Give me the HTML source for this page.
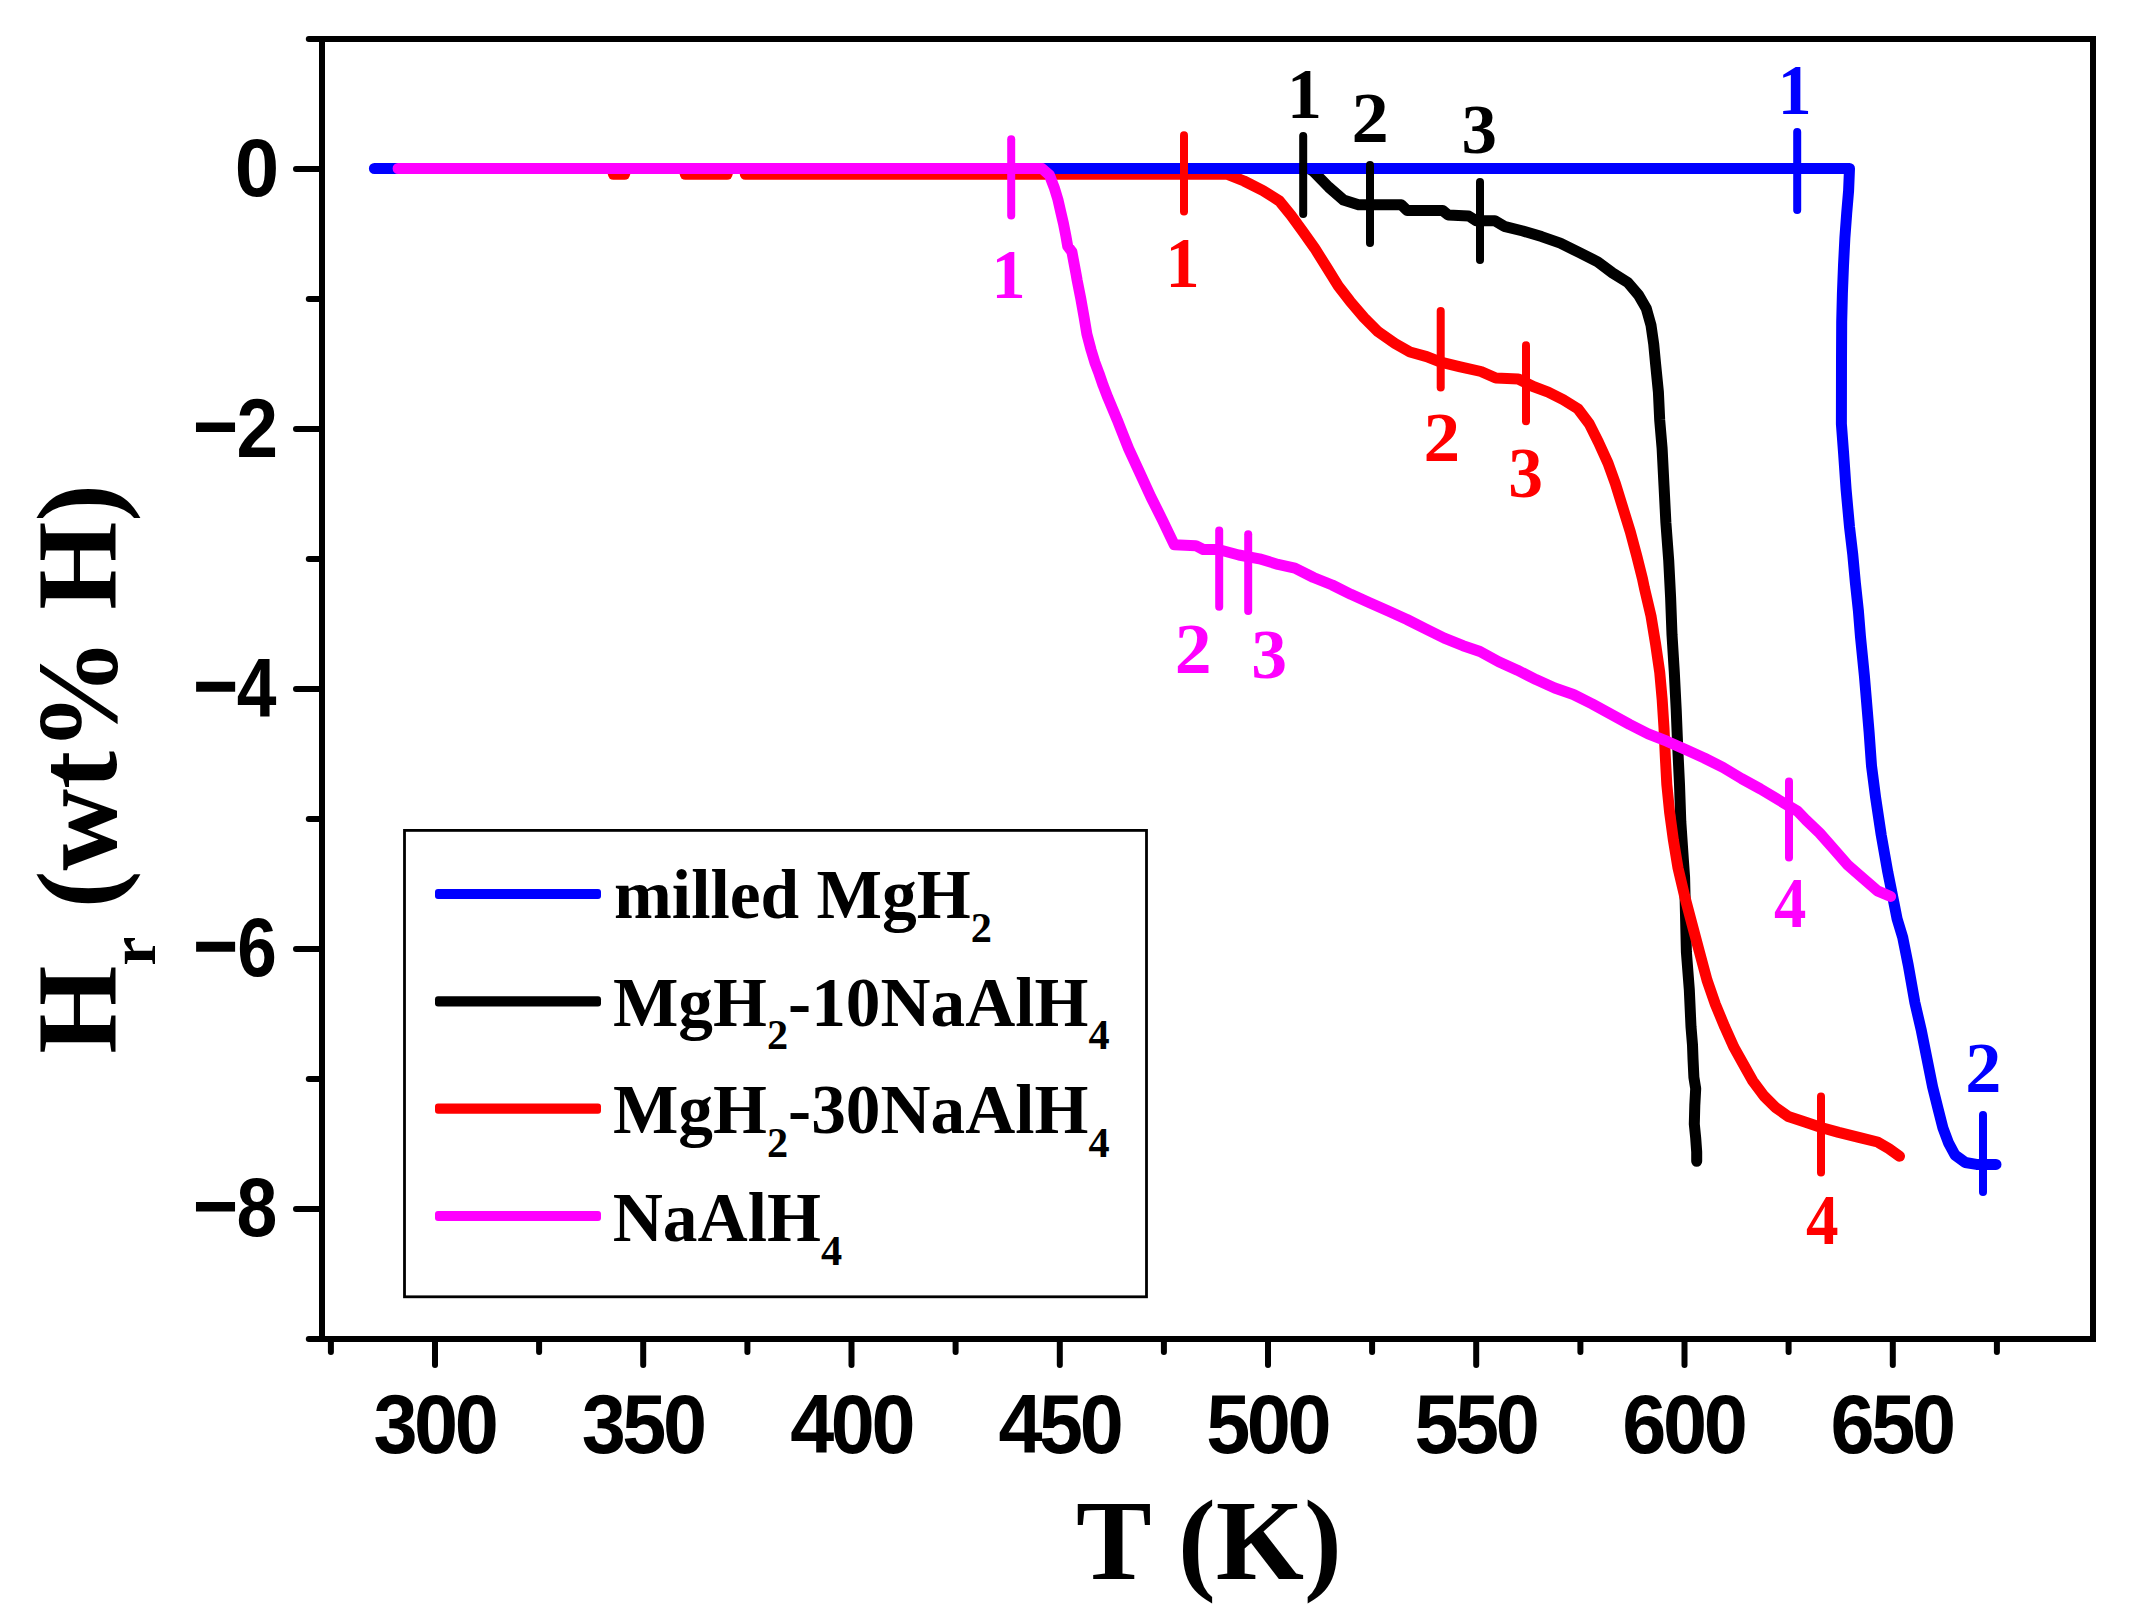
<!DOCTYPE html>
<html lang="en">
<head>
<meta charset="utf-8">
<title>Hydrogen release vs temperature</title>
<style>
html,body{margin:0;padding:0;background:#fff;}
body{width:2141px;height:1615px;overflow:hidden;}
svg{display:block;}
</style>
</head>
<body>
<svg width="2141" height="1615" viewBox="0 0 2141 1615">
<rect x="0" y="0" width="2141" height="1615" fill="#ffffff"/>

<g id="curves">
<polyline points="1309.0,168.5 1313.0,171.0 1328.6,187.0 1343.5,200.0 1358.5,204.8 1401.4,204.8 1407.0,210.4 1442.5,210.4 1448.2,215.0 1468.7,216.0 1476.0,220.7 1494.9,220.7 1504.2,226.3 1522.9,231.0 1541.6,236.6 1560.3,243.1 1579.0,252.4 1597.7,261.8 1612.6,273.0 1627.6,282.3 1638.8,295.4 1646.3,308.5 1651.0,325.3 1653.7,344.0 1655.6,364.0 1658.4,392.1 1659.7,420.1 1662.1,448.2 1664.0,485.5 1665.9,522.9 1668.7,560.3 1670.6,597.4 1672.0,634.7 1674.3,672.1 1676.2,709.5 1677.7,746.8 1679.5,784.2 1680.8,821.6 1683.3,858.9 1684.6,877.4 1685.5,914.7 1686.4,952.1 1689.3,989.5 1691.0,1026.8 1692.5,1045.0 1693.0,1058.7 1693.9,1077.4 1695.7,1088.6 1694.8,1105.4 1694.3,1124.0 1695.7,1138.0 1696.7,1152.0 1696.7,1161.3" fill="none" stroke="#000000" stroke-width="11" stroke-linecap="round" stroke-linejoin="round"/>
<polyline points="613.4,174.3 624.6,174.3" fill="none" stroke="#ff0000" stroke-width="11" stroke-linecap="round" stroke-linejoin="round"/>
<polyline points="685.3,174.3 727.1,174.3" fill="none" stroke="#ff0000" stroke-width="11" stroke-linecap="round" stroke-linejoin="round"/>
<polyline points="745.3,174.3 1227.6,174.3 1244.0,181.0 1263.0,190.6 1279.4,201.0 1291.0,215.3 1303.0,231.8 1314.7,248.2 1326.5,267.0 1338.2,285.9 1350.0,301.2 1364.0,317.6 1378.2,331.8 1395.0,343.5 1410.0,352.0 1426.7,356.6 1440.7,362.2 1460.3,366.9 1481.0,371.5 1495.8,378.1 1518.3,379.0 1533.2,386.5 1548.2,392.1 1563.1,399.6 1578.0,408.9 1589.3,423.9 1598.6,442.5 1608.0,463.1 1615.4,483.6 1622.9,507.9 1630.4,532.2 1636.9,556.5 1642.5,578.9 1644.4,588.0 1651.0,616.0 1655.6,644.0 1659.7,672.1 1662.2,700.1 1664.0,728.1 1665.3,756.2 1666.8,784.2 1669.6,812.2 1673.4,840.2 1678.0,868.0 1684.6,896.0 1692.0,924.0 1699.5,952.1 1707.0,980.1 1715.4,1004.4 1724.7,1026.8 1734.0,1047.4 1743.4,1064.2 1752.8,1081.0 1764.0,1096.0 1775.2,1107.2 1788.3,1116.5 1805.0,1122.0 1822.0,1127.7 1838.7,1132.4 1858.8,1137.3 1877.5,1142.0 1888.7,1148.5 1899.5,1156.2" fill="none" stroke="#ff0000" stroke-width="11" stroke-linecap="round" stroke-linejoin="round"/>
<polyline points="374.4,168.5 1849.5,168.5 1848.6,190.8 1846.7,213.3 1844.9,237.6 1843.5,265.6 1842.4,293.6 1841.7,321.7 1841.5,359.0 1841.4,424.0 1843.5,452.0 1846.1,489.5 1849.5,526.8 1852.8,554.9 1855.4,582.9 1858.4,610.9 1860.5,637.0 1864.4,676.0 1869.1,732.1 1871.5,765.7 1875.6,797.5 1881.2,834.9 1887.8,872.2 1893.4,900.2 1897.1,918.9 1902.7,937.4 1908.3,965.4 1914.9,1002.8 1921.4,1030.8 1927.0,1058.8 1932.6,1086.8 1938.2,1109.3 1942.9,1127.9 1948.5,1142.9 1955.0,1155.0 1965.3,1162.5 1976.5,1164.4 1996.0,1164.4" fill="none" stroke="#0000ff" stroke-width="11" stroke-linecap="round" stroke-linejoin="round"/>
<polyline points="398.1,168.5 1042.0,168.5 1049.5,175.2 1054.2,187.4 1057.9,199.5 1060.7,211.7 1063.5,223.8 1065.9,236.0 1067.7,246.2 1071.9,251.8 1073.8,262.1 1076.1,274.2 1077.1,280.0 1080.8,298.7 1084.1,317.4 1086.9,334.2 1091.1,350.0 1094.8,362.2 1099.0,373.4 1103.2,385.6 1107.9,397.7 1112.6,408.9 1117.3,420.1 1121.0,429.5 1128.6,448.6 1139.8,472.9 1151.0,497.2 1162.2,519.6 1174.3,544.8 1195.8,545.7 1203.3,549.5 1218.3,549.5 1238.8,555.0 1259.4,558.8 1278.0,564.4 1294.9,568.1 1313.5,577.5 1332.2,585.0 1350.9,594.3 1369.6,602.7 1388.3,611.1 1407.0,619.5 1425.6,628.9 1444.3,638.2 1463.0,645.7 1480.0,651.5 1498.7,661.8 1517.4,670.2 1536.0,679.6 1554.7,688.0 1573.4,694.5 1592.1,703.9 1610.8,714.1 1629.5,724.4 1648.2,733.8 1666.8,741.2 1685.5,749.6 1704.2,758.0 1722.9,767.4 1741.6,778.6 1760.3,788.9 1779.0,800.1 1797.6,811.3 1806.0,820.0 1819.6,833.0 1834.5,849.8 1847.6,864.8 1862.5,877.8 1877.5,890.9 1890.6,896.5" fill="none" stroke="#ff00ff" stroke-width="11" stroke-linecap="round" stroke-linejoin="round"/>
</g>
<g id="axes" stroke="#000" stroke-width="6" fill="none">
<rect x="322" y="39" width="1771" height="1300"/>
</g>
<g id="ticks" stroke="#000" stroke-width="6" stroke-linecap="round">
<line x1="435.0" y1="1339" x2="435.0" y2="1365"/>
<line x1="643.2" y1="1339" x2="643.2" y2="1365"/>
<line x1="851.5" y1="1339" x2="851.5" y2="1365"/>
<line x1="1059.8" y1="1339" x2="1059.8" y2="1365"/>
<line x1="1268.0" y1="1339" x2="1268.0" y2="1365"/>
<line x1="1476.2" y1="1339" x2="1476.2" y2="1365"/>
<line x1="1684.5" y1="1339" x2="1684.5" y2="1365"/>
<line x1="1892.8" y1="1339" x2="1892.8" y2="1365"/>
<line x1="330.9" y1="1339" x2="330.9" y2="1352"/>
<line x1="539.1" y1="1339" x2="539.1" y2="1352"/>
<line x1="747.4" y1="1339" x2="747.4" y2="1352"/>
<line x1="955.6" y1="1339" x2="955.6" y2="1352"/>
<line x1="1163.9" y1="1339" x2="1163.9" y2="1352"/>
<line x1="1372.1" y1="1339" x2="1372.1" y2="1352"/>
<line x1="1580.4" y1="1339" x2="1580.4" y2="1352"/>
<line x1="1788.6" y1="1339" x2="1788.6" y2="1352"/>
<line x1="1996.9" y1="1339" x2="1996.9" y2="1352"/>
<line x1="322" y1="169.0" x2="296" y2="169.0"/>
<line x1="322" y1="429.0" x2="296" y2="429.0"/>
<line x1="322" y1="689.0" x2="296" y2="689.0"/>
<line x1="322" y1="949.0" x2="296" y2="949.0"/>
<line x1="322" y1="1209.0" x2="296" y2="1209.0"/>
<line x1="322" y1="39.0" x2="308.8" y2="39.0"/>
<line x1="322" y1="299.0" x2="308.8" y2="299.0"/>
<line x1="322" y1="559.0" x2="308.8" y2="559.0"/>
<line x1="322" y1="819.0" x2="308.8" y2="819.0"/>
<line x1="322" y1="1079.0" x2="308.8" y2="1079.0"/>
<line x1="322" y1="1339.0" x2="308.8" y2="1339.0"/>
</g>
<g id="xticklabels">
<text transform="translate(373.40,1452.87) scale(0.7925,0.8335)" font-family='"Liberation Sans",sans-serif' font-weight="bold" font-size="100" fill="#000" letter-spacing="-4.3">300</text>
<text transform="translate(581.65,1452.87) scale(0.7925,0.8335)" font-family='"Liberation Sans",sans-serif' font-weight="bold" font-size="100" fill="#000" letter-spacing="-4.3">350</text>
<text transform="translate(790.23,1452.87) scale(0.7917,0.8335)" font-family='"Liberation Sans",sans-serif' font-weight="bold" font-size="100" fill="#000" letter-spacing="-4.3">400</text>
<text transform="translate(998.48,1452.87) scale(0.7917,0.8335)" font-family='"Liberation Sans",sans-serif' font-weight="bold" font-size="100" fill="#000" letter-spacing="-4.3">450</text>
<text transform="translate(1206.17,1452.87) scale(0.7921,0.8335)" font-family='"Liberation Sans",sans-serif' font-weight="bold" font-size="100" fill="#000" letter-spacing="-4.3">500</text>
<text transform="translate(1414.42,1452.87) scale(0.7921,0.8335)" font-family='"Liberation Sans",sans-serif' font-weight="bold" font-size="100" fill="#000" letter-spacing="-4.3">550</text>
<text transform="translate(1622.34,1452.87) scale(0.7929,0.8335)" font-family='"Liberation Sans",sans-serif' font-weight="bold" font-size="100" fill="#000" letter-spacing="-4.3">600</text>
<text transform="translate(1830.59,1452.87) scale(0.7929,0.8335)" font-family='"Liberation Sans",sans-serif' font-weight="bold" font-size="100" fill="#000" letter-spacing="-4.3">650</text>
</g>
<g id="yticklabels">
<text transform="translate(234.70,196.08) scale(0.7993,0.8193)" font-family='"Liberation Sans",sans-serif' font-weight="bold" font-size="100" fill="#000">0</text>
<text transform="translate(236.41,456.80) scale(0.7469,0.8311)" font-family='"Liberation Sans",sans-serif' font-weight="bold" font-size="100" fill="#000"><tspan x="-58.41" dy="-1.27" font-size="104.27">−</tspan><tspan x="0" dy="1.27">2</tspan></text>
<text transform="translate(236.71,716.80) scale(0.7144,0.8377)" font-family='"Liberation Sans",sans-serif' font-weight="bold" font-size="100" fill="#000"><tspan x="-61.49" dy="0.58" font-size="109.02">−</tspan><tspan x="0" dy="-0.58">4</tspan></text>
<text transform="translate(237.19,976.17) scale(0.7117,0.8349)" font-family='"Liberation Sans",sans-serif' font-weight="bold" font-size="100" fill="#000"><tspan x="-62.39" dy="1.36" font-size="109.43">−</tspan><tspan x="0" dy="-1.36">6</tspan></text>
<text transform="translate(236.45,1236.17) scale(0.7338,0.8349)" font-family='"Liberation Sans",sans-serif' font-weight="bold" font-size="100" fill="#000"><tspan x="-59.51" dy="0.27" font-size="106.14">−</tspan><tspan x="0" dy="-0.27">8</tspan></text>
</g>
<text transform="translate(1076.11,1578.70) scale(1.1343,1.1440)" font-family='"Liberation Serif",serif' font-weight="bold" font-size="100" fill="#000">T (K)</text>
<text transform="translate(116.00,1053.79) rotate(-90) scale(1.1320,1.1450)" font-family='"Liberation Serif",serif' font-weight="bold" font-size="100" fill="#000">H<tspan font-size="0.58em" dy="0.5862em">r</tspan><tspan dy="-0.34em"> (wt% H)</tspan></text>
<g id="markers">
<line x1="1797.2" y1="132" x2="1797.2" y2="210" stroke="#0000ff" stroke-width="8" stroke-linecap="round"/>
<line x1="1983" y1="1115" x2="1983" y2="1192" stroke="#0000ff" stroke-width="8" stroke-linecap="round"/>
<line x1="1303.2" y1="136" x2="1303.2" y2="214" stroke="#000000" stroke-width="8" stroke-linecap="round"/>
<line x1="1370" y1="165" x2="1370" y2="243" stroke="#000000" stroke-width="8" stroke-linecap="round"/>
<line x1="1480" y1="182" x2="1480" y2="260" stroke="#000000" stroke-width="8" stroke-linecap="round"/>
<line x1="1184" y1="135.3" x2="1184" y2="211.6" stroke="#ff0000" stroke-width="8" stroke-linecap="round"/>
<line x1="1440.7" y1="311" x2="1440.7" y2="387.6" stroke="#ff0000" stroke-width="8" stroke-linecap="round"/>
<line x1="1526" y1="345.3" x2="1526" y2="421.2" stroke="#ff0000" stroke-width="8" stroke-linecap="round"/>
<line x1="1821" y1="1096.5" x2="1821" y2="1172.5" stroke="#ff0000" stroke-width="8" stroke-linecap="round"/>
<line x1="1011.2" y1="139.3" x2="1011.2" y2="215.6" stroke="#ff00ff" stroke-width="8" stroke-linecap="round"/>
<line x1="1219.2" y1="530.5" x2="1219.2" y2="606.7" stroke="#ff00ff" stroke-width="8" stroke-linecap="round"/>
<line x1="1248.2" y1="534.2" x2="1248.2" y2="610.9" stroke="#ff00ff" stroke-width="8" stroke-linecap="round"/>
<line x1="1789" y1="781.6" x2="1789" y2="857.6" stroke="#ff00ff" stroke-width="8" stroke-linecap="round"/>
</g>
<g id="numbers">
<text transform="translate(1777.79,114.20) scale(0.6764,0.7136)" font-family='"Liberation Serif",serif' font-weight="bold" font-size="100" fill="#0000ff">1</text>
<text transform="translate(1965.37,1092.00) scale(0.7234,0.7116)" font-family='"Liberation Serif",serif' font-weight="bold" font-size="100" fill="#0000ff">2</text>
<text transform="translate(1287.11,118.30) scale(0.6982,0.7136)" font-family='"Liberation Serif",serif' font-weight="bold" font-size="100" fill="#000000">1</text>
<text transform="translate(1351.57,142.20) scale(0.7452,0.7176)" font-family='"Liberation Serif",serif' font-weight="bold" font-size="100" fill="#000000">2</text>
<text transform="translate(1461.40,152.79) scale(0.7093,0.7084)" font-family='"Liberation Serif",serif' font-weight="bold" font-size="100" fill="#000000">3</text>
<text transform="translate(1165.55,287.10) scale(0.6818,0.7152)" font-family='"Liberation Serif",serif' font-weight="bold" font-size="100" fill="#ff0000">1</text>
<text transform="translate(1423.52,461.20) scale(0.7331,0.7085)" font-family='"Liberation Serif",serif' font-weight="bold" font-size="100" fill="#ff0000">2</text>
<text transform="translate(1508.25,496.99) scale(0.6953,0.7084)" font-family='"Liberation Serif",serif' font-weight="bold" font-size="100" fill="#ff0000">3</text>
<text transform="translate(1805.93,1244.00) scale(0.6514,0.7136)" font-family='"Liberation Serif",serif' font-weight="bold" font-size="100" fill="#ff0000">4</text>
<text transform="translate(991.55,297.60) scale(0.6818,0.7061)" font-family='"Liberation Serif",serif' font-weight="bold" font-size="100" fill="#ff00ff">1</text>
<text transform="translate(1174.80,673.20) scale(0.7379,0.7116)" font-family='"Liberation Serif",serif' font-weight="bold" font-size="100" fill="#ff00ff">2</text>
<text transform="translate(1251.17,678.09) scale(0.7163,0.7054)" font-family='"Liberation Serif",serif' font-weight="bold" font-size="100" fill="#ff00ff">3</text>
<text transform="translate(1773.94,927.40) scale(0.6471,0.7091)" font-family='"Liberation Serif",serif' font-weight="bold" font-size="100" fill="#ff00ff">4</text>
</g>
<g id="legend">
<rect x="404.5" y="830.4" width="742" height="466.4" fill="#fff" stroke="#000" stroke-width="2.8"/>
<rect x="435" y="888.9" width="166" height="10.2" rx="3" ry="3" fill="#0000ff"/>
<rect x="435" y="996.1999999999999" width="166" height="10.2" rx="3" ry="3" fill="#000000"/>
<rect x="435" y="1103.6000000000001" width="166" height="10.2" rx="3" ry="3" fill="#ff0000"/>
<rect x="435" y="1210.9" width="166" height="10.2" rx="3" ry="3" fill="#ff00ff"/>
<text transform="translate(614.05,918.20) scale(0.6942,0.7000)" font-family='"Liberation Serif",serif' font-weight="bold" font-size="100" fill="#000">milled MgH<tspan font-size="0.61em" dy="0.5557em">2</tspan></text>
<text transform="translate(612.94,1025.70) scale(0.6933,0.7000)" font-family='"Liberation Serif",serif' font-weight="bold" font-size="100" fill="#000">MgH<tspan font-size="0.61em" dy="0.5557em">2</tspan><tspan dy="-0.339em">-10NaAlH</tspan><tspan font-size="0.61em" dy="0.5557em">4</tspan></text>
<text transform="translate(612.94,1133.40) scale(0.6933,0.7000)" font-family='"Liberation Serif",serif' font-weight="bold" font-size="100" fill="#000">MgH<tspan font-size="0.61em" dy="0.5557em">2</tspan><tspan dy="-0.339em">-30NaAlH</tspan><tspan font-size="0.61em" dy="0.5557em">4</tspan></text>
<text transform="translate(612.71,1241.00) scale(0.6941,0.7000)" font-family='"Liberation Serif",serif' font-weight="bold" font-size="100" fill="#000">NaAlH<tspan font-size="0.61em" dy="0.5557em">4</tspan></text>
</g>
</svg>
</body>
</html>
